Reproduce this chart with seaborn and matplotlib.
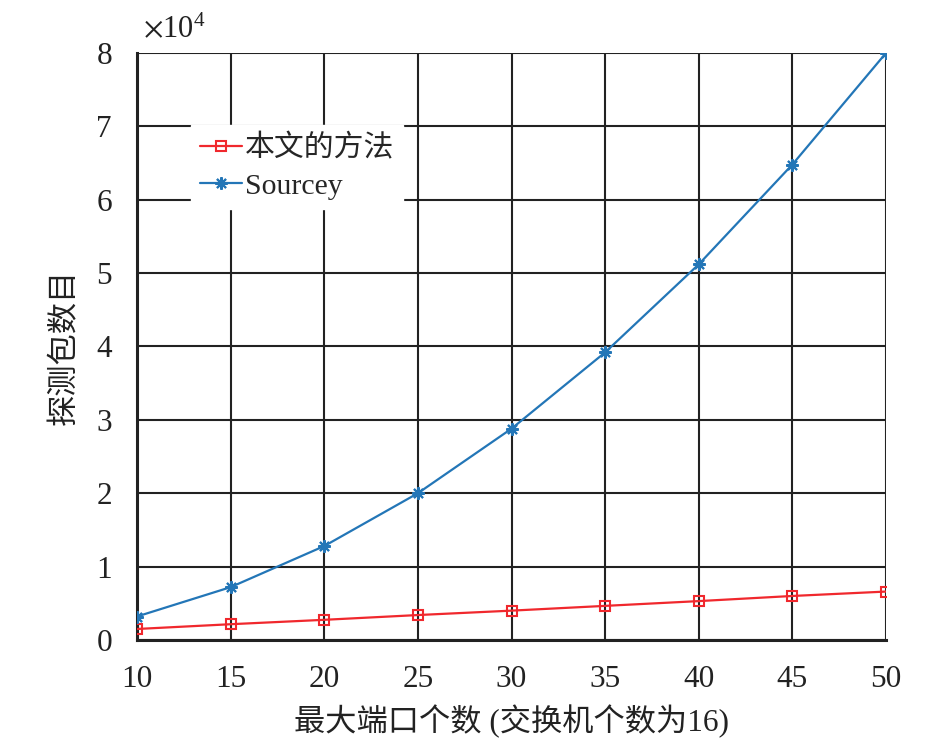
import numpy as np
import pandas as pd
import matplotlib
matplotlib.use('Agg')
import matplotlib.pyplot as plt
import seaborn as sns
from matplotlib.ticker import FuncFormatter

ports = [10, 15, 20, 25, 30, 35, 40, 45, 50]
ours = [1500, 2150, 2750, 3400, 4000, 4650, 5300, 6000, 6600]
sourcey = [3200, 7200, 12800, 20000, 28800, 39200, 51200, 64800, 80000]
names = ['本文的方法', 'Sourcey']
x_ticks = [10, 15, 20, 25, 30, 35, 40, 45, 50]
y_ticks = [0, 10000, 20000, 30000, 40000, 50000, 60000, 70000, 80000]

df = pd.DataFrame({
    'ports': ports * 2,
    'packets': ours + sourcey,
    'method': [names[0]] * len(ports) + [names[1]] * len(ports),
})

sns.set_style('white')
plt.rcParams['font.family'] = ['Liberation Serif', 'Noto Sans CJK SC']
plt.rcParams['mathtext.fontset'] = 'stix'
plt.rcParams['axes.unicode_minus'] = False

fig = plt.figure(figsize=(9.46, 7.46), dpi=100)
ax = fig.add_axes([0.1448, 0.1421, 0.7918, 0.7869])

styles = {
    names[0]: dict(color='#f0282d', marker='s', ms=7.5, mfc='none'),
    names[1]: dict(color='#2376b7', marker=(8, 2, 0), ms=9),
}
for name in names:
    st = styles[name]
    sns.lineplot(data=df[df['method'] == name], x='ports', y='packets', ax=ax,
                 color=st['color'], marker=st['marker'], markersize=st['ms'],
                 markerfacecolor=st.get('mfc', st['color']),
                 markeredgecolor=st['color'], markeredgewidth=1.5,
                 linewidth=1.6, label=name, zorder=3)

ax.set_xlim(10, 50)
ax.set_ylim(0, 80000)
ax.set_xticks(x_ticks)
ax.set_yticks(y_ticks)
ax.yaxis.set_major_formatter(FuncFormatter(lambda v, p: f'{v / 1e4:g}'))
ax.text(0.008, 1.026, r'$\times\mathregular{10^4}$', transform=ax.transAxes,
        fontsize=22, color='#222222', ha='left', va='baseline')

ax.grid(True, color='#222222', linewidth=1.5, linestyle='-')
ax.set_axisbelow(True)
for sp in ['left', 'bottom']:
    ax.spines[sp].set_linewidth(2.2)
    ax.spines[sp].set_color('#222222')
for sp in ['top', 'right']:
    ax.spines[sp].set_visible(False)

ax.tick_params(axis='both', direction='in', length=0, labelsize=22.5, colors='#222222')
ax.tick_params(axis='x', pad=18)
ax.tick_params(axis='y', pad=18)

ax.set_xlabel('最大端口个数 (交换机个数为16)', fontsize=22.5, color='#222222', labelpad=8)
ax.set_ylabel('探测包数目', fontsize=22.5, color='#222222', labelpad=12)

leg = ax.legend(loc='upper left', bbox_to_anchor=(0.072, 0.877), frameon=True,
                fontsize=21.5, handlelength=1.4, handletextpad=0.1,
                borderpad=0.3, labelspacing=0.35, fancybox=False,
                borderaxespad=0)
leg.get_frame().set_edgecolor('white')
leg.get_frame().set_facecolor('white')
leg.get_frame().set_alpha(1.0)

fig.savefig('out.png', dpi=100)
